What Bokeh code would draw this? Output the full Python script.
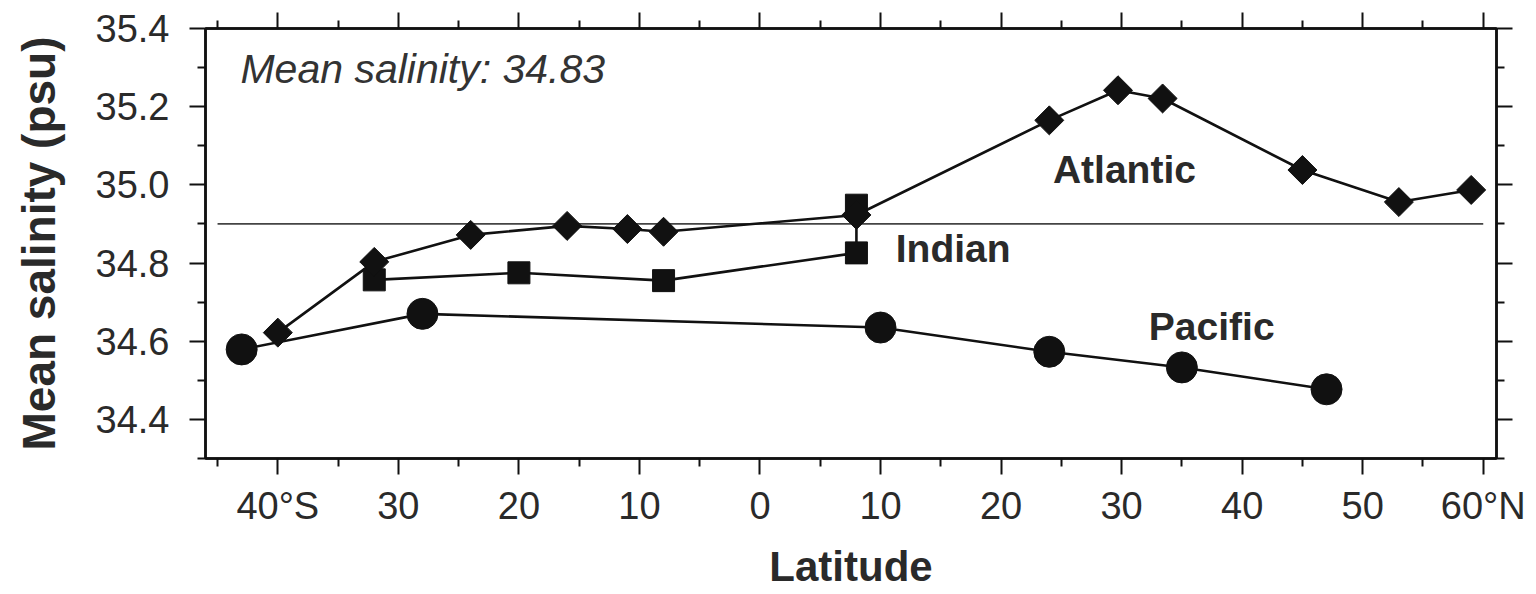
import math
from bokeh.plotting import figure
from bokeh.models import LinearAxis, FixedTicker, Label, Range1d, PrintfTickFormatter
from bokeh.embed import file_html
from bokeh.resources import INLINE

# ---- data ----
atlantic_lat = [-40, -32, -24, -16, -11, -8, 8, 24, 29.7, 33.4, 45, 53, 59]
atlantic_sal = [34.622, 34.803, 34.872, 34.895, 34.887, 34.880, 34.923, 35.165, 35.242, 35.221, 35.038, 34.956, 34.987]

indian_lat = [-32, -20, -8, 8, 8]
indian_sal = [34.757, 34.775, 34.755, 34.826, 34.948]

pacific_lat = [-43, -28, 10, 24, 35, 47]
pacific_sal = [34.579, 34.670, 34.635, 34.573, 34.533, 34.477]

reference_lat = [-45, 60]
reference_sal = [34.9, 34.9]

x_ticks = [-40, -30, -20, -10, 0, 10, 20, 30, 40, 50, 60]
x_tick_labels = ["40°S", "30", "20", "10", "0", "10", "20", "30", "40", "50", "60°N"]
x_minor_ticks = [-45, -35, -25, -15, -5, 5, 15, 25, 35, 45, 55]
y_ticks = [34.4, 34.6, 34.8, 35.0, 35.2, 35.4]
y_minor_ticks = [34.3, 34.5, 34.7, 34.9, 35.1, 35.3]

FONT = "Liberation Sans"
INK = "#111111"
TXT = "#2a2a2a"

p = figure(width=1536, height=594,
           x_range=Range1d(-46, 61.1), y_range=Range1d(34.3, 35.4),
           output_backend="svg", toolbar_location=None,
           min_border_left=205, min_border_right=40,
           min_border_top=28, min_border_bottom=136,
           background_fill_color="white", border_fill_color="white")
p.xgrid.visible = False
p.ygrid.visible = False
p.outline_line_color = INK
p.outline_line_width = 2.5


def style_axis(ax):
    ax.axis_line_color = INK
    ax.axis_line_width = 2.5
    ax.major_tick_in = 0
    ax.major_tick_out = 16
    ax.minor_tick_in = 0
    ax.minor_tick_out = 8
    ax.major_tick_line_color = INK
    ax.minor_tick_line_color = INK
    ax.major_tick_line_width = 2
    ax.minor_tick_line_width = 2
    ax.major_label_text_font = FONT
    ax.major_label_text_font_size = "38px"
    ax.major_label_text_color = TXT
    ax.axis_label_text_font = FONT
    ax.axis_label_text_font_style = "bold"
    ax.axis_label_text_font_size = "46px"
    ax.axis_label_text_color = TXT


xt = FixedTicker(ticks=x_ticks, minor_ticks=x_minor_ticks)
yt = FixedTicker(ticks=y_ticks, minor_ticks=y_minor_ticks)

xa = p.xaxis[0]
xa.ticker = xt
style_axis(xa)
xa.major_label_overrides = {t: lab for t, lab in zip(x_ticks, x_tick_labels)}
xa.major_label_standoff = 10
xa.axis_label = "Latitude"
xa.axis_label_text_font_size = "42px"
xa.axis_label_standoff = 13

ya = p.yaxis[0]
ya.ticker = yt
style_axis(ya)
ya.formatter = PrintfTickFormatter(format="%.1f")
ya.major_label_standoff = 20
ya.axis_label = "Mean salinity (psu)"
ya.axis_label_standoff = 28

top = LinearAxis(ticker=FixedTicker(ticks=x_ticks, minor_ticks=x_minor_ticks))
style_axis(top)
top.major_label_overrides = {t: "" for t in x_ticks}
top.major_label_text_font_size = "1px"
top.major_label_standoff = 0
p.add_layout(top, "above")

right = LinearAxis(ticker=FixedTicker(ticks=y_ticks, minor_ticks=y_minor_ticks))
style_axis(right)
right.major_label_overrides = {t: "" for t in y_ticks}
right.major_label_text_font_size = "1px"
right.major_label_standoff = 0
p.add_layout(right, "right")

# reference line
p.line(reference_lat, reference_sal, line_color="#444444", line_width=1.8)

# series lines
p.line(pacific_lat, pacific_sal, line_color=INK, line_width=2.6)
p.line(indian_lat, indian_sal, line_color=INK, line_width=2.6)
p.line(atlantic_lat, atlantic_sal, line_color=INK, line_width=2.6)

# markers
p.scatter(pacific_lat, pacific_sal, marker="circle", size=31, fill_color=INK, line_color=INK)
p.scatter(indian_lat, indian_sal, marker="square", size=22, fill_color=INK, line_color=INK)
p.scatter(atlantic_lat, atlantic_sal, marker="square", angle=math.pi / 4, size=20.5,
          fill_color=INK, line_color=INK)

# annotations
p.add_layout(Label(x=-43.1, y=35.262, y_offset=13, text="Mean salinity: 34.83", text_font=FONT,
                   text_font_style="italic", text_font_size="41px", text_color="#333333",
                   text_baseline="alphabetic"))
p.add_layout(Label(x=24.3, y=35.005, y_offset=13, text="Atlantic", text_font=FONT,
                   text_font_style="bold", text_font_size="39px", text_color=TXT,
                   text_baseline="alphabetic"))
p.add_layout(Label(x=11.26, y=34.803, y_offset=13, text="Indian", text_font=FONT,
                   text_font_style="bold", text_font_size="39px", text_color=TXT,
                   text_baseline="alphabetic"))
p.add_layout(Label(x=32.26, y=34.604, y_offset=13, text="Pacific", text_font=FONT,
                   text_font_style="bold", text_font_size="39px", text_color=TXT,
                   text_baseline="alphabetic"))

open("out.html", "w").write(file_html(p, INLINE))
